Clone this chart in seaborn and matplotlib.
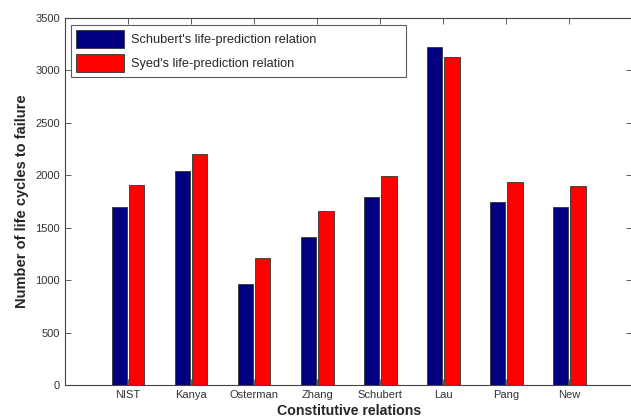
import seaborn as sns
import matplotlib.pyplot as plt
import pandas as pd

relations = ["NIST", "Kanya", "Osterman", "Zhang", "Schubert", "Lau", "Pang", "New"]
schubert = [1700, 2040, 960, 1415, 1795, 3220, 1745, 1700]
syed = [1910, 2200, 1210, 1660, 1990, 3130, 1940, 1900]
series = ["Schubert's life-prediction relation", "Syed's life-prediction relation"]

df = pd.DataFrame({
    "relation": relations * 2,
    "cycles": schubert + syed,
    "series": [series[0]] * len(relations) + [series[1]] * len(relations),
})

sns.set_style("white")
plt.rcParams['font.family'] = ['Liberation Sans', 'DejaVu Sans']

fig = plt.figure(figsize=(6.31, 4.18), dpi=100)
ax = fig.add_axes([0.103, 0.079, 0.899, 0.878])

sns.barplot(data=df, x="relation", y="cycles", hue="series",
            palette=["#000080", "#ff0000"], width=0.56, gap=0.14,
            edgecolor="#333333", linewidth=0.6, saturation=1, ax=ax)

ax.set_xlim(-1, 8)
ax.set_ylim(0, 3500)
ax.set_yticks(range(0, 3501, 500))
ax.tick_params(direction="in", length=4, width=0.6, labelsize=8,
               top=True, right=True, bottom=True, left=True, colors="#444444")
ax.tick_params(axis="both", labelcolor="#333333")
for s in ax.spines.values():
    s.set_color("#444444")
    s.set_linewidth(0.8)

ax.set_ylabel("Number of life cycles to failure", fontsize=10.5, fontweight="bold", labelpad=5)
ax.set_xlabel("Constitutive relations", fontsize=10.2, fontweight="bold", labelpad=3)

leg = ax.legend(loc="upper left", fontsize=9.2, frameon=True, fancybox=False,
                edgecolor="#333333", handlelength=3.75, handleheight=1.78,
                borderpad=0.4, labelspacing=0.5, handletextpad=0.55,
                bbox_to_anchor=(0.0107, 0.0, 0.59, 0.981), mode="expand",
                borderaxespad=0)
leg.get_frame().set_linewidth(0.8)
leg.set_title(None)

fig.savefig("out.png", dpi=100)
